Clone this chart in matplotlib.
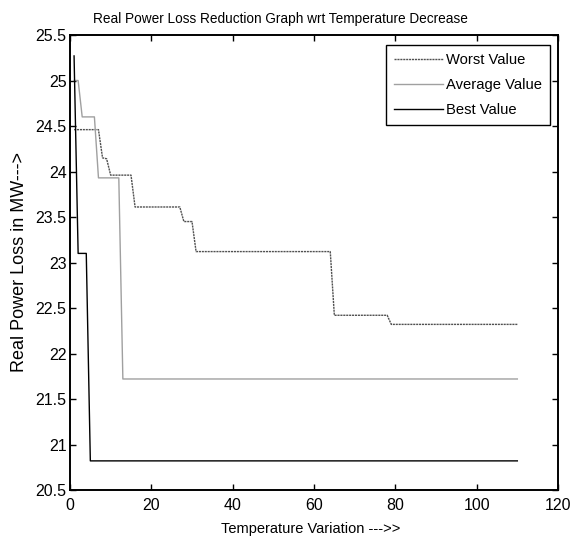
import matplotlib
matplotlib.use('Agg')
import matplotlib.pyplot as plt

# step values (x = temperature step, y = loss in MW)
x_worst = [1, 7, 8, 9, 10, 15, 16, 27, 28, 30, 31, 64, 65, 78, 79, 110]
worst = [24.46, 24.46, 24.15, 24.14, 23.96, 23.96, 23.61, 23.61, 23.45, 23.45,
         23.12, 23.12, 22.42, 22.42, 22.32, 22.32]
x_avg = [1, 2, 3, 6, 7, 12, 13, 110]
average = [25.0, 25.0, 24.6, 24.6, 23.93, 23.93, 21.72, 21.72]
x_best = [1, 2, 4, 5, 110]
best = [25.27, 23.1, 23.1, 20.82, 20.82]

xticks = [0, 20, 40, 60, 80, 100, 120]
yticks = [20.5, 21, 21.5, 22, 22.5, 23, 23.5, 24, 24.5, 25, 25.5]
ytick_labels = ['20.5', '21', '21.5', '22', '22.5', '23', '23.5', '24', '24.5', '25', '25.5']

plt.rcParams['font.family'] = ['Liberation Sans', 'DejaVu Sans']

fig = plt.figure(figsize=(5.8, 5.49), dpi=100)
ax = fig.add_axes([70/580, 1-490/549, 488/580, 455/549])

ax.plot(x_worst, worst, color='#505050', lw=1.0, linestyle=(0, (1.5, 0.6)), label='Worst Value')
ax.plot(x_avg, average, color='#a0a0a0', lw=1.0, label='Average Value')
ax.plot(x_best, best, color='black', lw=1.0, label='Best Value')

ax.set_xlim(0, 120)
ax.set_ylim(20.5, 25.5)
ax.set_xticks(xticks)
ax.set_xticklabels([str(t) for t in xticks])
ax.set_yticks(yticks)
ax.set_yticklabels(ytick_labels)
ax.tick_params(direction='in', length=4, width=1, top=True, right=True,
               labelsize=11.5, colors='black')
ax.tick_params(axis='x', pad=6)
ax.tick_params(axis='y', pad=2.5)
for s in ax.spines.values():
    s.set_linewidth(1.4)

ax.set_title('Real Power Loss Reduction Graph wrt Temperature Decrease',
             fontsize=9.8, x=0.432, pad=9)
ax.set_xlabel('Temperature Variation --->>', fontsize=10.5, va='center')
ax.xaxis.set_label_coords(0.494, -0.0857)
ax.set_ylabel('Real Power Loss in MW--->', fontsize=13, va='center')
ax.yaxis.set_label_coords(-0.1045, 0.5)

leg = ax.legend(loc='upper right', bbox_to_anchor=(1 - 8/488, 1 - 10/455),
                borderaxespad=0, fontsize=10.6, fancybox=False, framealpha=1,
                edgecolor='black', handlelength=3.3, handletextpad=0.2,
                labelspacing=0.75, borderpad=0.55)
leg.get_frame().set_linewidth(1.0)

fig.savefig('out.png', dpi=100)
